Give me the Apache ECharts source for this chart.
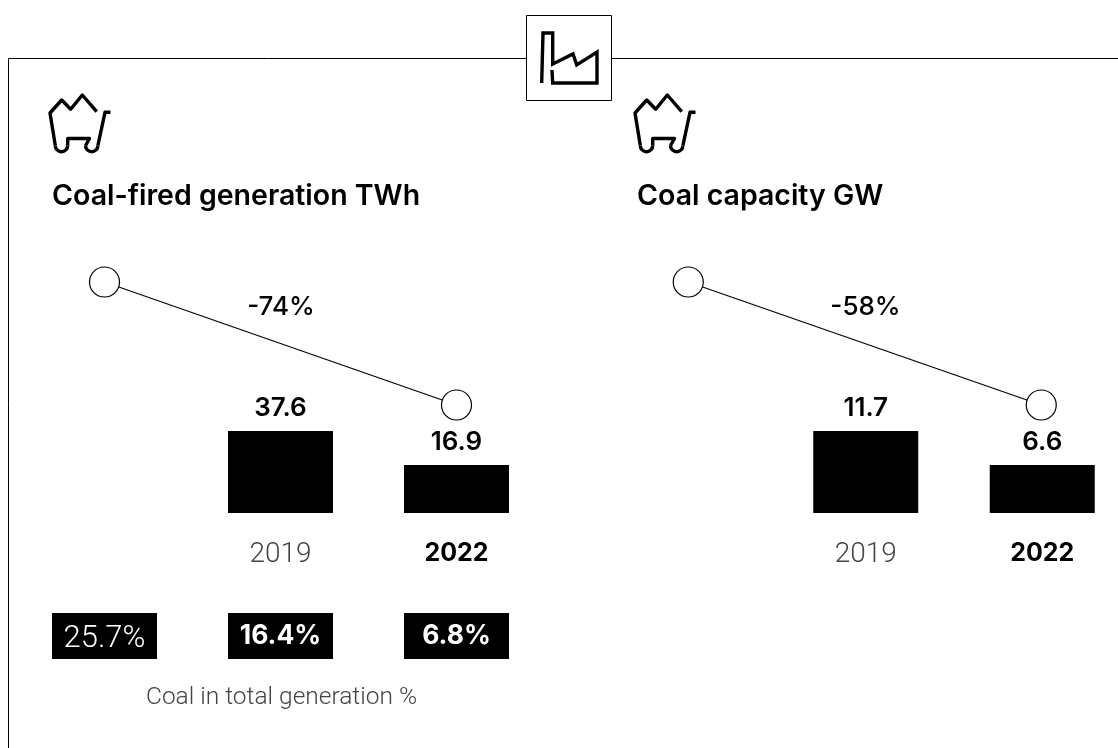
<!DOCTYPE html>
<html>
<head>
<meta charset="utf-8">
<style>html,body{margin:0;padding:0;background:#fff}#c{width:1118px;height:748px}</style>
<script src="https://cdn.jsdelivr.net/npm/echarts@6/dist/echarts.min.js"></script>
</head>
<body>
<div id="c"></div>
<script>
// ---- data ----
const columns = ['2015', '2019', '2022'];
const generationValues = [null, 37.6, 16.9];
const capacityValues = [null, 11.7, 6.6];
const generationChangeIndex = [100, null, 26];
const capacityChangeIndex = [100, null, 42];
const generationChangeLabel = '-74%';
const capacityChangeLabel = '-58%';
const coalSharePct = [25.7, 16.4, 6.8];
const generationTitle = 'Coal-fired generation TWh';
const capacityTitle = 'Coal capacity GW';
const shareCaption = 'Coal in total generation %';

const FONT = '"Liberation Sans", Arial, sans-serif';
const HEAD = 'Inter, "Liberation Sans", sans-serif';
const LIGHT = 'Roboto, "Liberation Sans", sans-serif';
const chart = echarts.init(document.getElementById('c'), null, {renderer: 'canvas'});

function cart(dx) {
  const s = {stroke: '#000', lineWidth: 3.4, fill: null, lineJoin: 'round'};
  const poly = pts => ({type: 'polyline', silent: true, x: dx, shape: {points: pts}, style: s});
  const arc = (cx, cy) => ({type: 'arc', silent: true, x: dx,
    shape: {cx: cx, cy: cy, r: 6.2, startAngle: 0, endAngle: Math.PI, clockwise: true}, style: s});
  return [
    poly([[96.7, 111.7], [82.3, 95], [70.7, 109.3], [61.7, 100], [50, 113], [55.3, 145.5]]),
    arc(61.5, 145.5),
    poly([[67.7, 145.5], [67.7, 138.5], [89.5, 138.5], [85.5, 145.5]]),
    arc(91.7, 145.5),
    poly([[97.9, 145.5], [105, 112.3], [110.5, 112.3]])
  ];
}

const factory = [
  {type: 'polyline', silent: true,
   shape: {points: [[541.7, 83], [543, 33], [552.7, 33], [552.7, 64], [573, 54], [576.7, 65], [597, 52], [597, 83], [552.7, 83], [552, 70]]},
   style: {stroke: '#000', lineWidth: 3.4, fill: null}}
];

const frame = [
  {type: 'polyline', silent: true, shape: {points: [[526, 58.5], [8.5, 58.5], [8.5, 748]]}, style: {stroke: '#000', lineWidth: 1, fill: null}},
  {type: 'line', silent: true, shape: {x1: 611, y1: 58.5, x2: 1118, y2: 58.5}, style: {stroke: '#000', lineWidth: 1}},
  {type: 'rect', silent: true, shape: {x: 526.5, y: 15.5, width: 85, height: 85}, style: {stroke: '#000', lineWidth: 1, fill: '#fff'}}
];

const catAxis = (grid, show) => ({
  type: 'category', gridIndex: grid, data: columns,
  axisLine: {show: false}, axisTick: {show: false}, splitLine: {show: false},
  axisLabel: show ? {
    show: true, margin: 28, interval: 0,
    formatter: (v) => v === '2022' ? '{b|' + v + '}' : (v === '2019' ? '{l|' + v + '}' : ''),
    rich: {
      b: {fontFamily: HEAD, fontSize: 25, fontWeight: 700, color: '#000'},
      l: {fontFamily: LIGHT, fontSize: 28, fontWeight: 300, color: '#444'}
    }
  } : {show: false}
});
const valAxis = (grid, type, min, max) => ({
  type: type, gridIndex: grid, min: min, max: max, show: false, splitLine: {show: false}
});

const barSeries = (idx, values) => ({
  type: 'bar', xAxisIndex: idx, yAxisIndex: idx, data: values, barWidth: 105,
  itemStyle: {color: '#000'}, silent: true,
  label: {show: true, position: 'top', distance: 10, fontFamily: HEAD, fontSize: 26, fontWeight: 600, color: '#000'}
});
const slopeSeries = (idx, values) => ({
  type: 'line', xAxisIndex: idx, yAxisIndex: idx, data: values, connectNulls: true, silent: true,
  symbol: 'circle', symbolSize: 30, showAllSymbol: true, clip: false,
  lineStyle: {color: '#000', width: 1.2},
  itemStyle: {color: '#fff', borderColor: '#000', borderWidth: 1.2}
});

const titleText = (size, weight, color, family) => ({fontFamily: family || FONT, fontSize: size, fontWeight: weight, color: color || '#000'});

const grids = [
  {left: 16.5, width: 528, top: 431, height: 82},
  {left: 601, width: 529.5, top: 431, height: 82},
  {left: 16.5, width: 528, top: 282, height: 123},
  {left: 600, width: 529.5, top: 282, height: 123},
  {left: 16.5, width: 528, top: 613, height: 46}
].map(g => Object.assign(g, {outerBoundsMode: 'none', containLabel: false}));

const option = {
  animation: false,
  backgroundColor: '#fff',
  title: [
    {text: generationTitle, left: 47, top: 177, textStyle: titleText(28.5, 600, '#000', HEAD)},
    {text: capacityTitle, left: 632, top: 177, textStyle: titleText(28.5, 600, '#000', HEAD)},
    {text: generationChangeLabel, left: 276, top: 289, textAlign: 'center', textStyle: titleText(26, 500, '#000', HEAD)},
    {text: capacityChangeLabel, left: 860.5, top: 289, textAlign: 'center', textStyle: titleText(26, 500, '#000', HEAD)},
    {text: shareCaption, left: 276.5, top: 680, textAlign: 'center', textStyle: titleText(24.5, 300, '#444', LIGHT)}
  ],
  grid: grids,
  xAxis: [catAxis(0, true), catAxis(1, true), catAxis(2, false), catAxis(3, false), catAxis(4, false)],
  yAxis: [
    valAxis(0, 'log', 5.46, 37.6),
    valAxis(1, 'log', 2.94, 11.7),
    valAxis(2, 'value', 26, 100),
    valAxis(3, 'value', 42, 100),
    valAxis(4, 'value', 0, 2)
  ],
  series: [
    barSeries(0, generationValues),
    barSeries(1, capacityValues),
    slopeSeries(2, generationChangeIndex),
    slopeSeries(3, capacityChangeIndex),
    {
      type: 'scatter', xAxisIndex: 4, yAxisIndex: 4, silent: true,
      data: coalSharePct.map((v, i) => ({
        value: [columns[i], 1], pct: v,
        label: i === 0
          ? {fontWeight: 300, fontSize: 31, fontFamily: LIGHT, offset: [0, 3]}
          : {fontWeight: 700, fontSize: 26.5, fontFamily: HEAD}
      })),
      symbol: 'rect', symbolSize: [105, 46],
      itemStyle: {color: '#000', opacity: 1},
      label: {
        show: true, position: 'inside', color: '#fff',
        formatter: p => p.data.pct.toFixed(1) + '%'
      }
    }
  ],
  graphic: {elements: frame.concat(factory, cart(0), cart(585))}
};
chart.setOption(option);
</script>
</body>
</html>
